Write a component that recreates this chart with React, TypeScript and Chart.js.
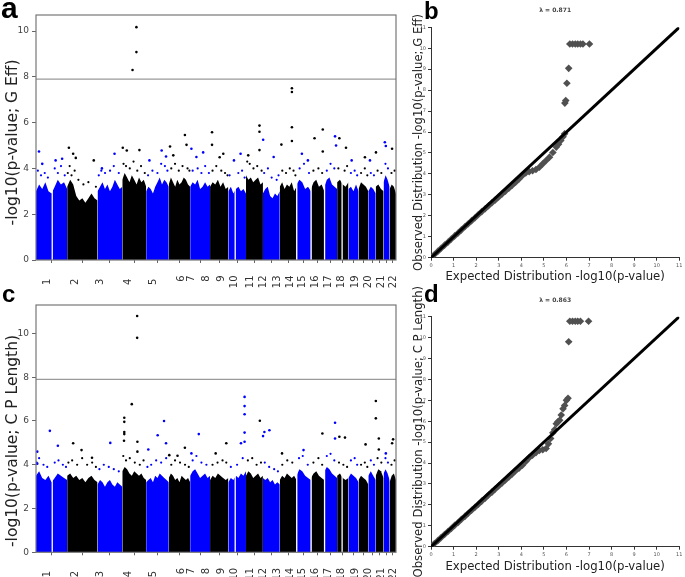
import React, { useEffect, useRef } from 'react';
import { Chart, registerables } from 'chart.js';

Chart.register(...registerables);

// ---------------- DATA ----------------
const chromNames = ['1', '2', '3', '4', '5', '6', '7', '8', '9', '10', '11', '12', '13', '14', '15', '16', '17', '18', '19', '20', '21', '22'];
const chromLengthMb = [249.3, 243.2, 198.0, 191.2, 180.9, 171.1, 159.1, 146.4, 141.2, 135.5, 135.0, 133.9, 115.2, 107.3, 102.5, 90.4, 81.2, 78.1, 59.1, 63.0, 48.1, 51.3];
// genome-wide positions (Mb) at which the chromosome labels are printed
const chromLabelPosMb = [95, 314, 513, 740, 939, 1162, 1242, 1363, 1487, 1586, 1715, 1823, 1928, 2036, 2133, 2235, 2343, 2448, 2557, 2661, 2764, 2864];
// regions without markers: [chromosome, position Mb]
const gapSites: number[][] = [[1, 130], [9, 55], [13, 2], [14, 2], [15, 2], [16, 40]];
const genomeWideThreshold = 7.9;
const manhattanYTicks = [0, 2, 4, 6, 8, 10];
const qqTicks = [0, 1, 2, 3, 4, 5, 6, 7, 8, 9, 10, 11];

// top of the dense marker cloud along each chromosome (-log10 p)
const skylineA: number[][] = [
  [3.0, 3.3, 3.1, 3.4, 3.0, 2.9, 3.2, 3.5, 3.3, 3.4, 3.1],
  [3.2, 3.5, 3.3, 2.8, 2.6, 2.7, 2.5, 2.7, 2.9, 2.7, 2.6],
  [3.0, 3.2, 3.4, 3.1, 3.3, 3.0, 3.2, 3.5, 3.3, 3.1, 3.2],
  [3.5, 3.8, 3.6, 3.4, 3.7, 3.5, 3.3, 3.6, 3.4, 3.5, 3.2],
  [3.0, 3.2, 3.1, 2.9, 3.2, 3.4, 3.6, 3.3, 3.5, 3.4, 3.2],
  [3.3, 3.6, 3.4, 3.2, 3.5, 3.3, 3.4, 3.6, 3.5, 3.3, 3.2],
  [3.2, 3.4, 3.3, 3.5, 3.1, 3.2, 3.4, 3.2, 3.3],
  [3.2, 3.4, 3.3, 3.5, 3.2, 3.4, 3.1, 3.2],
  [3.0, 3.2, 2.9, 3.1, 3.2, 3.0, 3.1, 2.9],
  [3.7, 3.5, 3.6, 3.4, 3.5, 3.6, 3.3, 3.4],
  [2.9, 3.1, 3.2, 2.8, 2.7, 2.9, 2.8, 3.0],
  [3.2, 3.4, 3.1, 3.3, 3.2, 3.4, 3.0, 3.2],
  [3.3, 3.5, 3.4, 3.1, 3.2, 3.0],
  [3.1, 3.4, 3.5, 3.2, 3.3, 3.0],
  [3.2, 3.5, 3.6, 3.3, 3.2, 3.1],
  [3.4, 3.5, 3.3, 3.2, 3.4],
  [3.1, 3.2, 3.0, 3.3, 3.0],
  [3.1, 3.4, 3.3, 3.2, 3.0],
  [3.0, 3.2, 3.1, 2.9],
  [3.2, 3.3, 3.1, 3.0],
  [3.4, 3.7, 3.5, 3.2],
  [3.1, 3.3, 3.2, 2.9],
];
const skylineC: number[][] = [
  [3.5, 3.7, 3.4, 3.3, 3.5, 3.2, 3.4, 3.6, 3.5, 3.4, 3.3],
  [3.5, 3.6, 3.4, 3.5, 3.3, 3.4, 3.2, 3.4, 3.5, 3.3, 3.2],
  [3.1, 3.3, 3.2, 3.0, 3.2, 3.3, 3.1, 3.0, 3.2, 3.1, 3.0],
  [3.7, 3.9, 3.8, 3.6, 3.5, 3.7, 3.6, 3.5, 3.6, 3.4, 3.3],
  [3.2, 3.3, 3.4, 3.2, 3.5, 3.4, 3.6, 3.5, 3.4, 3.3, 3.2],
  [3.4, 3.6, 3.5, 3.3, 3.4, 3.2, 3.5, 3.4, 3.3, 3.4, 3.2],
  [3.5, 3.7, 3.8, 3.6, 3.4, 3.5, 3.6, 3.4, 3.5],
  [3.3, 3.5, 3.4, 3.6, 3.5, 3.4, 3.3, 3.4],
  [3.2, 3.4, 3.3, 3.5, 3.4, 3.6, 3.5, 3.7],
  [3.5, 3.7, 3.6, 3.4, 3.5, 3.6, 3.4, 3.5],
  [3.4, 3.3, 3.4, 3.2, 3.3, 3.1, 3.2, 3.1],
  [3.3, 3.5, 3.4, 3.6, 3.5, 3.4, 3.5, 3.3],
  [3.5, 3.8, 3.7, 3.5, 3.4, 3.3],
  [3.4, 3.6, 3.7, 3.5, 3.4, 3.3],
  [3.7, 3.9, 3.8, 3.6, 3.5, 3.4],
  [3.5, 3.6, 3.4, 3.3, 3.4],
  [3.4, 3.6, 3.5, 3.4, 3.2],
  [3.3, 3.5, 3.4, 3.3, 3.1],
  [3.5, 3.7, 3.5, 3.3],
  [3.5, 3.8, 3.7, 3.4],
  [3.6, 3.8, 3.6, 3.3],
  [3.2, 3.5, 3.6, 3.3],
];

// scattered markers just above the dense cloud: [chromosome, position Mb, -log10 p]
const fringeA: number[][] = [
  [1, 15, 3.9], [1, 40, 3.7], [1, 70, 3.8], [1, 95, 3.6], [1, 150, 4.0], [1, 175, 3.8], [1, 200, 4.1], [1, 230, 3.7],
  [2, 5, 3.8], [2, 20, 4.1], [2, 35, 3.7], [2, 60, 3.9], [2, 90, 3.5], [2, 130, 3.3], [2, 170, 3.4], [2, 230, 3.2],
  [3, 10, 3.7], [3, 30, 3.9], [3, 60, 3.8], [3, 100, 3.9], [3, 130, 4.1], [3, 170, 3.8],
  [4, 10, 4.2], [4, 30, 4.1], [4, 60, 4.0], [4, 90, 4.3], [4, 120, 3.9], [4, 150, 4.1], [4, 180, 3.8],
  [5, 15, 3.7], [5, 50, 3.9], [5, 90, 3.8], [5, 120, 4.2], [5, 150, 4.1], [5, 170, 3.9],
  [6, 20, 4.0], [6, 50, 4.2], [6, 80, 3.9], [6, 110, 4.1], [6, 150, 4.0], [6, 165, 3.9],
  [7, 20, 3.9], [7, 60, 4.0], [7, 90, 3.8], [7, 120, 4.1], [7, 150, 3.8],
  [8, 20, 3.9], [8, 50, 4.1], [8, 90, 3.9], [8, 120, 3.8], [8, 140, 3.7],
  [9, 10, 3.7], [9, 80, 3.8], [9, 110, 3.9], [9, 130, 3.6],
  [10, 10, 4.3], [10, 30, 4.2], [10, 60, 4.0], [10, 90, 4.1], [10, 125, 3.9],
  [11, 10, 3.8], [11, 40, 4.0], [11, 70, 3.6], [11, 110, 3.5], [11, 125, 3.7],
  [12, 20, 3.9], [12, 50, 3.8], [12, 80, 4.0], [12, 110, 3.9], [12, 125, 3.7],
  [13, 25, 4.0], [13, 60, 4.2], [13, 100, 3.8],
  [14, 20, 3.9], [14, 60, 4.0], [14, 90, 3.8],
  [15, 20, 3.9], [15, 50, 4.2], [15, 80, 4.0],
  [16, 10, 4.0], [16, 60, 3.9], [16, 80, 4.1],
  [17, 20, 3.8], [17, 50, 3.9], [17, 70, 3.7],
  [18, 20, 3.8], [18, 50, 4.0], [18, 70, 3.7],
  [19, 20, 3.8], [19, 45, 3.7],
  [20, 15, 3.9], [20, 45, 3.8],
  [21, 15, 4.2], [21, 35, 4.0],
  [22, 15, 3.8], [22, 40, 3.9],
];
const fringeC: number[][] = [
  [1, 5, 4.1], [1, 25, 4.3], [1, 60, 4.0], [1, 90, 3.9], [1, 150, 4.1], [1, 180, 4.2], [1, 215, 4.0], [1, 240, 3.9],
  [2, 10, 4.1], [2, 40, 4.2], [2, 80, 4.0], [2, 120, 4.3], [2, 160, 4.0], [2, 200, 4.1], [2, 230, 3.9],
  [3, 15, 3.8], [3, 50, 4.0], [3, 90, 3.9], [3, 130, 3.8], [3, 170, 3.7],
  [4, 8, 4.4], [4, 30, 4.2], [4, 60, 4.3], [4, 100, 4.1], [4, 140, 4.0], [4, 170, 4.2],
  [5, 10, 3.9], [5, 40, 4.0], [5, 80, 4.2], [5, 120, 4.1], [5, 160, 4.3],
  [6, 20, 4.0], [6, 50, 4.2], [6, 90, 4.1], [6, 130, 4.0], [6, 160, 3.9],
  [7, 20, 4.2], [7, 50, 4.4], [7, 90, 4.1], [7, 130, 4.0],
  [8, 20, 4.0], [8, 60, 4.1], [8, 100, 4.2], [8, 130, 4.1],
  [9, 20, 3.9], [9, 70, 4.0], [9, 115, 4.3],
  [10, 15, 4.2], [10, 50, 4.3], [10, 85, 4.0], [10, 120, 4.1],
  [11, 15, 4.1], [11, 50, 3.9], [11, 90, 3.8], [11, 120, 3.7],
  [12, 20, 4.0], [12, 60, 4.2], [12, 100, 4.1],
  [13, 20, 4.3], [13, 50, 4.4], [13, 90, 4.0],
  [14, 20, 4.1], [14, 60, 4.3], [14, 90, 4.0],
  [15, 20, 4.4], [15, 50, 4.5], [15, 80, 4.2],
  [16, 15, 4.1], [16, 50, 4.0], [16, 80, 3.9],
  [17, 20, 4.2], [17, 50, 4.3], [17, 70, 4.0],
  [18, 20, 4.0], [18, 50, 4.1], [18, 70, 3.9],
  [19, 20, 4.2], [19, 45, 4.0],
  [20, 15, 4.3], [20, 45, 4.1],
  [21, 15, 4.3], [21, 35, 4.1],
  [22, 15, 4.0], [22, 40, 4.2],
];

// isolated markers high above the cloud: [chromosome, position Mb, -log10 p]
const outliersA: number[][] = [
  [1, 24, 4.74], [1, 50, 4.2], [1, 157, 4.35], [1, 209, 4.42],
  [2, 14, 4.9], [2, 48, 4.64], [2, 69, 4.46], [2, 213, 4.35],
  [3, 35, 4.0], [3, 136, 4.64],
  [4, 4, 4.9], [4, 36, 4.78], [4, 137, 4.8], [4, 113, 10.17], [4, 113, 9.08], [4, 82, 8.3],
  [5, 26, 4.35], [5, 124, 4.78], [5, 159, 4.52],
  [6, 10, 4.96], [6, 36, 4.57], [6, 129, 5.46], [6, 142, 5.03],
  [7, 10, 4.86], [7, 50, 4.5], [7, 104, 4.7],
  [8, 16, 5.58], [8, 16, 5.03], [8, 77, 4.49], [8, 106, 4.64],
  [9, 45, 4.35], [9, 98, 4.64],
  [10, 18, 4.57], [10, 108, 5.87], [10, 108, 5.6], [10, 108, 4.8],
  [11, 2, 5.25], [11, 86, 4.5],
  [12, 13, 5.04], [12, 97, 7.5], [12, 97, 7.34], [12, 97, 5.8], [12, 97, 5.2],
  [13, 43, 4.64], [13, 91, 4.35],
  [14, 29, 5.32], [14, 95, 5.7], [14, 95, 4.74],
  [15, 86, 5.4], [15, 94, 5.0],
  [16, 18, 5.32], [16, 71, 4.9],
  [17, 26, 4.35],
  [18, 51, 4.49],
  [19, 13, 4.35],
  [20, 2, 4.7],
  [21, 10, 5.14], [21, 18, 4.98],
  [22, 20, 4.86],
];
const outliersC: number[][] = [
  [1, 10, 4.6], [1, 10, 4.05], [1, 111, 5.55], [1, 175, 4.87],
  [2, 48, 4.98], [2, 115, 4.67], [2, 199, 4.32],
  [3, 102, 5.0],
  [4, 16, 6.15], [4, 16, 5.96], [4, 16, 5.5], [4, 16, 5.4], [4, 14, 5.1], [4, 76, 6.77], [4, 119, 10.8], [4, 119, 9.8], [4, 121, 5.05], [4, 121, 4.6],
  [5, 17, 4.7], [5, 92, 5.35], [5, 143, 6.0], [5, 159, 4.98],
  [6, 4, 4.44], [6, 70, 4.41], [6, 129, 4.78],
  [7, 10, 4.52], [7, 69, 5.4],
  [8, 45, 4.52], [8, 130, 4.98],
  [9, 101, 4.98], [9, 130, 7.1], [9, 130, 6.68], [9, 130, 6.31], [9, 130, 5.47], [9, 130, 5.05],
  [10, 111, 6.01],
  [11, 1, 5.31], [11, 12, 5.5], [11, 52, 5.58],
  [12, 18, 4.52],
  [13, 56, 4.67],
  [14, 92, 5.43],
  [15, 86, 5.92], [15, 86, 5.2],
  [16, 18, 5.28], [16, 63, 5.24],
  [18, 56, 4.93],
  [20, 1, 6.91], [20, 1, 6.12], [20, 25, 5.2], [20, 25, 4.7],
  [21, 18, 4.52],
  [22, 20, 4.98], [22, 28, 5.16],
];

// QQ plots: expected vs observed -log10(p)
const qqExpectedB = [0.02, 0.15, 0.3, 0.45, 0.6, 0.75, 0.9, 1.05, 1.2, 1.35, 1.5, 1.65, 1.8, 1.95, 2.1, 2.25, 2.4, 2.55, 2.7, 2.85, 3.0, 3.15, 3.3, 3.45, 3.6, 3.75, 3.9, 4.05, 4.2, 4.35, 4.5, 4.65, 4.8, 4.95, 5.1, 5.25, 5.4, 5.55, 5.65, 5.75, 5.85, 5.92, 5.93, 5.97, 6.02, 6.1, 6.15, 6.27, 6.39, 6.5, 6.62, 6.73, 7.02];
const qqObservedB = [0.02, 0.15, 0.3, 0.45, 0.6, 0.74, 0.89, 1.04, 1.18, 1.33, 1.48, 1.62, 1.77, 1.91, 2.06, 2.2, 2.34, 2.48, 2.62, 2.76, 2.9, 3.04, 3.18, 3.32, 3.46, 3.6, 3.76, 3.93, 4.05, 4.11, 4.15, 4.21, 4.32, 4.48, 4.64, 4.8, 5.02, 5.28, 5.42, 5.6, 5.78, 5.92, 7.38, 7.5, 8.33, 9.04, 10.2, 10.2, 10.2, 10.2, 10.2, 10.2, 10.2];
const qqExpectedD = [0.02, 0.15, 0.3, 0.45, 0.6, 0.75, 0.9, 1.05, 1.2, 1.35, 1.5, 1.65, 1.8, 1.95, 2.1, 2.25, 2.4, 2.55, 2.7, 2.85, 3.0, 3.15, 3.3, 3.45, 3.6, 3.75, 3.9, 4.05, 4.2, 4.35, 4.5, 4.65, 4.8, 4.95, 5.1, 5.2, 5.3, 5.4, 5.48, 5.55, 5.62, 5.7, 5.77, 5.85, 5.92, 6.0, 6.07, 6.1, 6.15, 6.27, 6.39, 6.5, 6.62, 6.98];
const qqObservedD = [0.02, 0.15, 0.29, 0.44, 0.58, 0.73, 0.87, 1.02, 1.16, 1.31, 1.45, 1.6, 1.74, 1.89, 2.03, 2.18, 2.32, 2.47, 2.61, 2.76, 2.9, 3.05, 3.19, 3.33, 3.48, 3.63, 3.76, 3.9, 4.08, 4.26, 4.38, 4.5, 4.6, 4.64, 4.7, 4.92, 5.18, 5.45, 5.6, 5.88, 5.97, 6.05, 6.3, 6.6, 6.75, 7.0, 7.1, 9.8, 10.78, 10.78, 10.78, 10.78, 10.78, 10.78];
const lambdaB = 0.871;
const lambdaD = 0.863;

// ---------------- HELPERS ----------------
const BLUE = '#0000ff';
const BLACK = '#000000';
const FONT = 'DejaVu Sans';
const chromColor = (i: number) => (i % 2 === 0 ? BLUE : BLACK);
const chromStart: number[] = [];
{
  let acc = 0;
  for (const L of chromLengthMb) { chromStart.push(acc); acc += L; }
}
const genomeMb = chromLengthMb.reduce((a, b) => a + b, 0);

const zeroPad = (s: any) => { s.paddingLeft = 0; s.paddingRight = 0; s.paddingTop = 0; s.paddingBottom = 0; };

const framePlugin = {
  id: 'frame',
  afterDatasetsDraw(chart: any) {
    const { ctx, chartArea: a } = chart;
    ctx.save();
    ctx.strokeStyle = '#777';
    ctx.lineWidth = 1.2;
    ctx.strokeRect(a.left, a.top, a.right - a.left, a.bottom - a.top);
    ctx.restore();
  },
};

function markerSets(list: number[][], radius: number, order: number): any[] {
  return [0, 1].map((parity) => ({
    type: 'line',
    data: list.filter((o) => (o[0] - 1) % 2 === parity).map((o) => ({ x: chromStart[o[0] - 1] + o[1], y: o[2] })),
    showLine: false,
    pointRadius: radius,
    pointBackgroundColor: parity === 0 ? BLUE : BLACK,
    pointBorderWidth: 0,
    order,
  }));
}

function manhattanConfig(sky: number[][], fringe: number[][], outs: number[][], yMax: number, yTitle: string, padTop: number, x2Height: number): any {
  const datasets: any[] = [];
  datasets.push(...markerSets(outs, 1.3, 0));
  datasets.push(...markerSets(fringe, 1.1, 0));
  datasets.push({
    type: 'line',
    data: [{ x: 0, y: genomeWideThreshold }, { x: genomeMb, y: genomeWideThreshold }],
    borderColor: '#9a9a9a',
    borderWidth: 1.4,
    pointRadius: 0,
    fill: false,
    order: 1,
  });
  gapSites.forEach((g) => {
    const gx = chromStart[g[0] - 1] + g[1];
    datasets.push({
      type: 'line',
      data: [{ x: gx, y: 0 }, { x: gx, y: 4.6 }],
      borderColor: '#ffffff',
      borderWidth: 1.3,
      pointRadius: 0,
      fill: false,
      order: 2,
    });
  });
  sky.forEach((vals, i) => {
    datasets.push({
      type: 'line',
      data: vals.map((v, k) => ({ x: chromStart[i] + (chromLengthMb[i] * k) / (vals.length - 1), y: v })),
      fill: 'origin',
      backgroundColor: chromColor(i),
      borderColor: 'rgba(0,0,0,0)',
      borderWidth: 0,
      pointRadius: 0,
      tension: 0,
      order: 3,
    });
  });

  return {
    type: 'line',
    data: { datasets },
    options: {
      animation: false,
      responsive: false,
      maintainAspectRatio: false,
      events: [],
      layout: { padding: { left: 0, top: padTop, right: 2, bottom: 0 } },
      plugins: { legend: { display: false }, tooltip: { enabled: false }, title: { display: false } },
      scales: {
        x: {
          type: 'linear', position: 'bottom', min: 0, max: genomeMb, weight: 0,
          grid: { drawOnChartArea: false, drawTicks: true, tickLength: 3, color: '#666' },
          border: { display: false },
          ticks: { display: false },
          afterBuildTicks: (s: any) => { s.ticks = chromStart.map((st, i) => ({ value: st + chromLengthMb[i] / 2 })); },
          afterFit: (s: any) => { s.height = 3; zeroPad(s); },
        },
        x2: {
          type: 'linear', position: 'bottom', min: 0, max: genomeMb, weight: 1,
          grid: { display: false },
          border: { display: false },
          ticks: {
            autoSkip: false, maxRotation: 90, minRotation: 90, padding: 4.5,
            font: { family: FONT, size: 10 }, color: '#333',
            callback: (_v: any, i: number) => chromNames[i] + (i < 5 ? ' ' : ''),
          },
          afterBuildTicks: (s: any) => { s.ticks = chromLabelPosMb.map((v) => ({ value: v })); },
          afterFit: (s: any) => { s.height = x2Height; zeroPad(s); },
        },
        y: {
          type: 'linear', min: 0, max: yMax,
          grid: { drawOnChartArea: false, tickLength: 4, color: '#666' },
          border: { display: false },
          ticks: { padding: 3, font: { family: FONT, size: 9 }, color: '#444' },
          afterBuildTicks: (s: any) => { s.ticks = manhattanYTicks.map((v) => ({ value: v })); },
          title: { display: true, text: yTitle, font: { family: FONT, size: 15.5 }, color: '#222', padding: { top: 3.7, bottom: 0 } },
          afterFit: (s: any) => { s.width = 36; zeroPad(s); },
        },
      },
    },
    plugins: [framePlugin],
  };
}

function qqConfig(exp: number[], obs: number[], lambda: number, yTitle: string, titlePad: { top: number; bottom: number }, xAxisHeight: number, xTitlePadBottom: number): any {
  const tickFn = (s: any) => { s.ticks = qqTicks.map((v) => ({ value: v })); };
  return {
    type: 'line',
    data: {
      datasets: [
        {
          data: [{ x: 0, y: 0 }, { x: 11, y: 11 }],
          borderColor: '#000', borderWidth: 3, pointRadius: 0, fill: false, order: 0,
        },
        {
          data: exp.map((e, i) => ({ x: e, y: obs[i] })),
          showLine: false, pointStyle: 'rectRot', pointRadius: 3.8,
          pointBackgroundColor: '#505050', pointBorderWidth: 0, order: 1,
        },
      ],
    },
    options: {
      animation: false,
      responsive: false,
      maintainAspectRatio: false,
      events: [],
      layout: { padding: { left: 8, top: 0, right: 5.7, bottom: 0 } },
      plugins: {
        legend: { display: false },
        tooltip: { enabled: false },
        title: {
          display: true, text: 'λ = ' + lambda.toFixed(3), fullSize: false,
          font: { family: FONT, size: 6 }, color: '#444', padding: titlePad,
        },
      },
      scales: {
        x: {
          type: 'linear', min: 0, max: 11,
          grid: { drawOnChartArea: false, tickLength: 3, color: '#333' },
          border: { display: true, color: '#333', width: 1 },
          ticks: { padding: 2, font: { family: FONT, size: 5 }, color: '#555' },
          afterBuildTicks: tickFn,
          title: { display: true, text: 'Expected Distribution -log10(p-value)', font: { family: FONT, size: 11.7 }, color: '#222', padding: { top: 0, bottom: xTitlePadBottom } },
          afterFit: (s: any) => { s.height = xAxisHeight; zeroPad(s); },
        },
        y: {
          type: 'linear', min: 0, max: 11,
          grid: { drawOnChartArea: false, tickLength: 3, color: '#333' },
          border: { display: true, color: '#333', width: 1 },
          ticks: { padding: 2, font: { family: FONT, size: 5 }, color: '#555' },
          afterBuildTicks: tickFn,
          title: { display: true, text: yTitle, font: { family: FONT, size: 11.7 }, color: '#222', padding: { top: 4.1, bottom: 0 } },
          afterFit: (s: any) => { s.width = 23; zeroPad(s); },
        },
      },
    },
  };
}

function ChartCanvas({ make, left, top, width, height }: { make: () => any; left: number; top: number; width: number; height: number }) {
  const ref = useRef<HTMLCanvasElement>(null);
  useEffect(() => {
    const chart = new Chart(ref.current as HTMLCanvasElement, make());
    return () => chart.destroy();
  }, []);
  return (
    <canvas
      ref={ref}
      width={width}
      height={height}
      style={{ position: 'absolute', left, top, width, height }}
    />
  );
}

const letterStyle = (left: number, top: number, size: number): React.CSSProperties => ({
  position: 'absolute', left, top, fontFamily: '"Liberation Sans", Arial, sans-serif',
  fontWeight: 'bold', fontSize: size, lineHeight: 1, color: '#000',
});

export default function App() {
  return (
    <div style={{ position: 'absolute', left: 0, top: 0, width: 685, height: 577, background: '#fff', overflow: 'hidden' }}>
      <ChartCanvas
        left={0} top={0} width={400} height={290}
        make={() => manhattanConfig(skylineA, fringeA, outliersA, 10.7, '-log10(p-value; G Eff)  ', 15, 27)}
      />
      <ChartCanvas
        left={0} top={280} width={400} height={297}
        make={() => manhattanConfig(skylineC, fringeC, outliersC, 11.3, '-log10(p-value; C P Length)     ', 25, 21.7)}
      />
      <ChartCanvas
        left={400} top={0} width={285} height={290}
        make={() => qqConfig(qqExpectedB, qqObservedB, lambdaB, 'Observed Distribution -log10(p-value; G Eff)', { top: 6.4, bottom: 13.7 }, 32.3, 6.1)}
      />
      <ChartCanvas
        left={400} top={280} width={285} height={297}
        make={() => qqConfig(qqExpectedD, qqObservedD, lambdaD, 'Observed Distribution -log10(p-value; C P Length)', { top: 16.4, bottom: 13.1 }, 30.3, 3.1)}
      />
      <div style={letterStyle(1, -7, 30)}>a</div>
      <div style={letterStyle(424, -1, 24)}>b</div>
      <div style={letterStyle(2, 282, 24)}>c</div>
      <div style={letterStyle(424, 282, 24)}>d</div>
    </div>
  );
}
